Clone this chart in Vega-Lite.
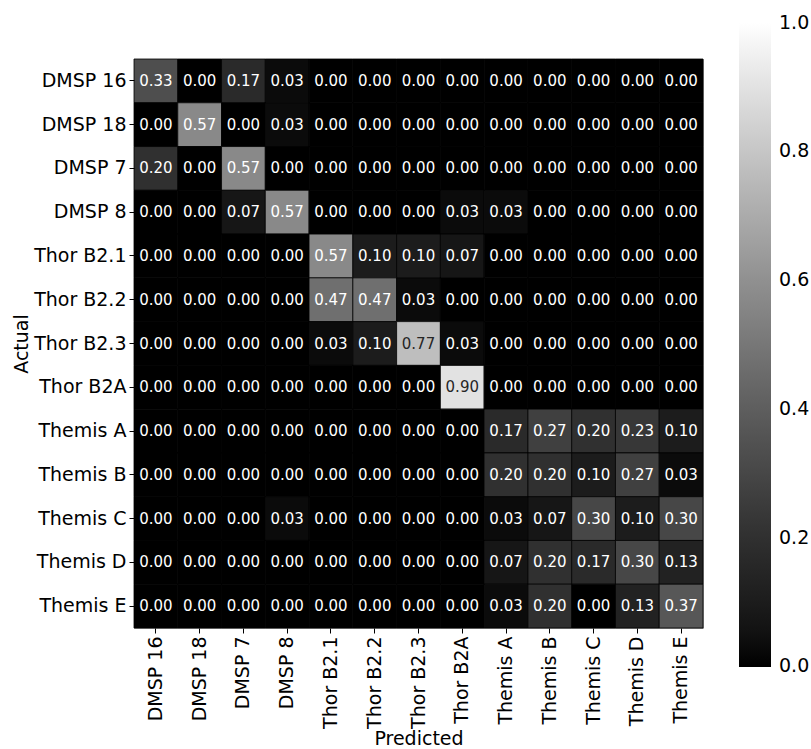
{
 "$schema": "https://vega.github.io/schema/vega-lite/v6.json",
 "width": 569, "height": 569,
 "autosize": {"type": "none"},
 "padding": {"left": 134, "top": 59, "right": 108, "bottom": 121},
 "background": "white",
 "config": {"view": {"stroke": "#999999", "strokeWidth": 1}, "font": "DejaVu Sans"},
 "data": {"values": [
  {"a":"DMSP 16","p":"DMSP 16","v":0.33},{"a":"DMSP 16","p":"DMSP 18","v":0.00},{"a":"DMSP 16","p":"DMSP 7","v":0.17},{"a":"DMSP 16","p":"DMSP 8","v":0.03},{"a":"DMSP 16","p":"Thor B2.1","v":0.00},{"a":"DMSP 16","p":"Thor B2.2","v":0.00},{"a":"DMSP 16","p":"Thor B2.3","v":0.00},{"a":"DMSP 16","p":"Thor B2A","v":0.00},{"a":"DMSP 16","p":"Themis A","v":0.00},{"a":"DMSP 16","p":"Themis B","v":0.00},{"a":"DMSP 16","p":"Themis C","v":0.00},{"a":"DMSP 16","p":"Themis D","v":0.00},{"a":"DMSP 16","p":"Themis E","v":0.00},
  {"a":"DMSP 18","p":"DMSP 16","v":0.00},{"a":"DMSP 18","p":"DMSP 18","v":0.57},{"a":"DMSP 18","p":"DMSP 7","v":0.00},{"a":"DMSP 18","p":"DMSP 8","v":0.03},{"a":"DMSP 18","p":"Thor B2.1","v":0.00},{"a":"DMSP 18","p":"Thor B2.2","v":0.00},{"a":"DMSP 18","p":"Thor B2.3","v":0.00},{"a":"DMSP 18","p":"Thor B2A","v":0.00},{"a":"DMSP 18","p":"Themis A","v":0.00},{"a":"DMSP 18","p":"Themis B","v":0.00},{"a":"DMSP 18","p":"Themis C","v":0.00},{"a":"DMSP 18","p":"Themis D","v":0.00},{"a":"DMSP 18","p":"Themis E","v":0.00},
  {"a":"DMSP 7","p":"DMSP 16","v":0.20},{"a":"DMSP 7","p":"DMSP 18","v":0.00},{"a":"DMSP 7","p":"DMSP 7","v":0.57},{"a":"DMSP 7","p":"DMSP 8","v":0.00},{"a":"DMSP 7","p":"Thor B2.1","v":0.00},{"a":"DMSP 7","p":"Thor B2.2","v":0.00},{"a":"DMSP 7","p":"Thor B2.3","v":0.00},{"a":"DMSP 7","p":"Thor B2A","v":0.00},{"a":"DMSP 7","p":"Themis A","v":0.00},{"a":"DMSP 7","p":"Themis B","v":0.00},{"a":"DMSP 7","p":"Themis C","v":0.00},{"a":"DMSP 7","p":"Themis D","v":0.00},{"a":"DMSP 7","p":"Themis E","v":0.00},
  {"a":"DMSP 8","p":"DMSP 16","v":0.00},{"a":"DMSP 8","p":"DMSP 18","v":0.00},{"a":"DMSP 8","p":"DMSP 7","v":0.07},{"a":"DMSP 8","p":"DMSP 8","v":0.57},{"a":"DMSP 8","p":"Thor B2.1","v":0.00},{"a":"DMSP 8","p":"Thor B2.2","v":0.00},{"a":"DMSP 8","p":"Thor B2.3","v":0.00},{"a":"DMSP 8","p":"Thor B2A","v":0.03},{"a":"DMSP 8","p":"Themis A","v":0.03},{"a":"DMSP 8","p":"Themis B","v":0.00},{"a":"DMSP 8","p":"Themis C","v":0.00},{"a":"DMSP 8","p":"Themis D","v":0.00},{"a":"DMSP 8","p":"Themis E","v":0.00},
  {"a":"Thor B2.1","p":"DMSP 16","v":0.00},{"a":"Thor B2.1","p":"DMSP 18","v":0.00},{"a":"Thor B2.1","p":"DMSP 7","v":0.00},{"a":"Thor B2.1","p":"DMSP 8","v":0.00},{"a":"Thor B2.1","p":"Thor B2.1","v":0.57},{"a":"Thor B2.1","p":"Thor B2.2","v":0.10},{"a":"Thor B2.1","p":"Thor B2.3","v":0.10},{"a":"Thor B2.1","p":"Thor B2A","v":0.07},{"a":"Thor B2.1","p":"Themis A","v":0.00},{"a":"Thor B2.1","p":"Themis B","v":0.00},{"a":"Thor B2.1","p":"Themis C","v":0.00},{"a":"Thor B2.1","p":"Themis D","v":0.00},{"a":"Thor B2.1","p":"Themis E","v":0.00},
  {"a":"Thor B2.2","p":"DMSP 16","v":0.00},{"a":"Thor B2.2","p":"DMSP 18","v":0.00},{"a":"Thor B2.2","p":"DMSP 7","v":0.00},{"a":"Thor B2.2","p":"DMSP 8","v":0.00},{"a":"Thor B2.2","p":"Thor B2.1","v":0.47},{"a":"Thor B2.2","p":"Thor B2.2","v":0.47},{"a":"Thor B2.2","p":"Thor B2.3","v":0.03},{"a":"Thor B2.2","p":"Thor B2A","v":0.00},{"a":"Thor B2.2","p":"Themis A","v":0.00},{"a":"Thor B2.2","p":"Themis B","v":0.00},{"a":"Thor B2.2","p":"Themis C","v":0.00},{"a":"Thor B2.2","p":"Themis D","v":0.00},{"a":"Thor B2.2","p":"Themis E","v":0.00},
  {"a":"Thor B2.3","p":"DMSP 16","v":0.00},{"a":"Thor B2.3","p":"DMSP 18","v":0.00},{"a":"Thor B2.3","p":"DMSP 7","v":0.00},{"a":"Thor B2.3","p":"DMSP 8","v":0.00},{"a":"Thor B2.3","p":"Thor B2.1","v":0.03},{"a":"Thor B2.3","p":"Thor B2.2","v":0.10},{"a":"Thor B2.3","p":"Thor B2.3","v":0.77},{"a":"Thor B2.3","p":"Thor B2A","v":0.03},{"a":"Thor B2.3","p":"Themis A","v":0.00},{"a":"Thor B2.3","p":"Themis B","v":0.00},{"a":"Thor B2.3","p":"Themis C","v":0.00},{"a":"Thor B2.3","p":"Themis D","v":0.00},{"a":"Thor B2.3","p":"Themis E","v":0.00},
  {"a":"Thor B2A","p":"DMSP 16","v":0.00},{"a":"Thor B2A","p":"DMSP 18","v":0.00},{"a":"Thor B2A","p":"DMSP 7","v":0.00},{"a":"Thor B2A","p":"DMSP 8","v":0.00},{"a":"Thor B2A","p":"Thor B2.1","v":0.00},{"a":"Thor B2A","p":"Thor B2.2","v":0.00},{"a":"Thor B2A","p":"Thor B2.3","v":0.00},{"a":"Thor B2A","p":"Thor B2A","v":0.90},{"a":"Thor B2A","p":"Themis A","v":0.00},{"a":"Thor B2A","p":"Themis B","v":0.00},{"a":"Thor B2A","p":"Themis C","v":0.00},{"a":"Thor B2A","p":"Themis D","v":0.00},{"a":"Thor B2A","p":"Themis E","v":0.00},
  {"a":"Themis A","p":"DMSP 16","v":0.00},{"a":"Themis A","p":"DMSP 18","v":0.00},{"a":"Themis A","p":"DMSP 7","v":0.00},{"a":"Themis A","p":"DMSP 8","v":0.00},{"a":"Themis A","p":"Thor B2.1","v":0.00},{"a":"Themis A","p":"Thor B2.2","v":0.00},{"a":"Themis A","p":"Thor B2.3","v":0.00},{"a":"Themis A","p":"Thor B2A","v":0.00},{"a":"Themis A","p":"Themis A","v":0.17},{"a":"Themis A","p":"Themis B","v":0.27},{"a":"Themis A","p":"Themis C","v":0.20},{"a":"Themis A","p":"Themis D","v":0.23},{"a":"Themis A","p":"Themis E","v":0.10},
  {"a":"Themis B","p":"DMSP 16","v":0.00},{"a":"Themis B","p":"DMSP 18","v":0.00},{"a":"Themis B","p":"DMSP 7","v":0.00},{"a":"Themis B","p":"DMSP 8","v":0.00},{"a":"Themis B","p":"Thor B2.1","v":0.00},{"a":"Themis B","p":"Thor B2.2","v":0.00},{"a":"Themis B","p":"Thor B2.3","v":0.00},{"a":"Themis B","p":"Thor B2A","v":0.00},{"a":"Themis B","p":"Themis A","v":0.20},{"a":"Themis B","p":"Themis B","v":0.20},{"a":"Themis B","p":"Themis C","v":0.10},{"a":"Themis B","p":"Themis D","v":0.27},{"a":"Themis B","p":"Themis E","v":0.03},
  {"a":"Themis C","p":"DMSP 16","v":0.00},{"a":"Themis C","p":"DMSP 18","v":0.00},{"a":"Themis C","p":"DMSP 7","v":0.00},{"a":"Themis C","p":"DMSP 8","v":0.03},{"a":"Themis C","p":"Thor B2.1","v":0.00},{"a":"Themis C","p":"Thor B2.2","v":0.00},{"a":"Themis C","p":"Thor B2.3","v":0.00},{"a":"Themis C","p":"Thor B2A","v":0.00},{"a":"Themis C","p":"Themis A","v":0.03},{"a":"Themis C","p":"Themis B","v":0.07},{"a":"Themis C","p":"Themis C","v":0.30},{"a":"Themis C","p":"Themis D","v":0.10},{"a":"Themis C","p":"Themis E","v":0.30},
  {"a":"Themis D","p":"DMSP 16","v":0.00},{"a":"Themis D","p":"DMSP 18","v":0.00},{"a":"Themis D","p":"DMSP 7","v":0.00},{"a":"Themis D","p":"DMSP 8","v":0.00},{"a":"Themis D","p":"Thor B2.1","v":0.00},{"a":"Themis D","p":"Thor B2.2","v":0.00},{"a":"Themis D","p":"Thor B2.3","v":0.00},{"a":"Themis D","p":"Thor B2A","v":0.00},{"a":"Themis D","p":"Themis A","v":0.07},{"a":"Themis D","p":"Themis B","v":0.20},{"a":"Themis D","p":"Themis C","v":0.17},{"a":"Themis D","p":"Themis D","v":0.30},{"a":"Themis D","p":"Themis E","v":0.13},
  {"a":"Themis E","p":"DMSP 16","v":0.00},{"a":"Themis E","p":"DMSP 18","v":0.00},{"a":"Themis E","p":"DMSP 7","v":0.00},{"a":"Themis E","p":"DMSP 8","v":0.00},{"a":"Themis E","p":"Thor B2.1","v":0.00},{"a":"Themis E","p":"Thor B2.2","v":0.00},{"a":"Themis E","p":"Thor B2.3","v":0.00},{"a":"Themis E","p":"Thor B2A","v":0.00},{"a":"Themis E","p":"Themis A","v":0.03},{"a":"Themis E","p":"Themis B","v":0.20},{"a":"Themis E","p":"Themis C","v":0.00},{"a":"Themis E","p":"Themis D","v":0.13},{"a":"Themis E","p":"Themis E","v":0.37}
 ]},
 "encoding": {
  "x": {"field": "p", "type": "nominal",
        "scale": {"domain": ["DMSP 16","DMSP 18","DMSP 7","DMSP 8","Thor B2.1","Thor B2.2","Thor B2.3","Thor B2A","Themis A","Themis B","Themis C","Themis D","Themis E"], "paddingInner": 0, "paddingOuter": 0},
        "axis": {"title": "Predicted", "labelAngle": 270, "labelFontSize": 19, "titleFontSize": 19, "titleFontWeight": "normal", "labelColor": "black", "titleColor": "black", "tickColor": "black", "tickSize": 5, "labelPadding": 3, "domain": false, "titlePadding": 1}},
  "y": {"field": "a", "type": "nominal",
        "scale": {"domain": ["DMSP 16","DMSP 18","DMSP 7","DMSP 8","Thor B2.1","Thor B2.2","Thor B2.3","Thor B2A","Themis A","Themis B","Themis C","Themis D","Themis E"], "paddingInner": 0, "paddingOuter": 0},
        "axis": {"title": "Actual", "labelFontSize": 19, "titleFontSize": 19, "titleFontWeight": "normal", "labelColor": "black", "titleColor": "black", "tickColor": "black", "tickSize": 5, "labelPadding": 3, "domain": false, "titlePadding": 2}}
 },
 "layer": [
  {"mark": {"type": "rect", "stroke": "black", "strokeWidth": 0.8},
   "encoding": {"color": {"field": "v", "type": "quantitative",
     "scale": {"domain": [-0.001, 1.001], "range": ["#000000", "#ffffff"]},
     "legend": {"orient": "none", "legendX": 605, "legendY": -37, "direction": "vertical", "gradientLength": 645, "gradientThickness": 32, "title": null, "values": [0, 0.2, 0.4, 0.6, 0.8, 1], "format": ".1f", "labelFontSize": 19, "labelColor": "black", "labelOffset": 8, "labelBaseline": "middle", "labelOverlap": false, "gradientStrokeWidth": 0}}}},
  {"mark": {"type": "text", "fontSize": 15},
   "encoding": {"text": {"field": "v", "type": "quantitative", "format": ".2f"},
     "color": {"condition": {"test": "datum.v > 0.7", "value": "#262626"}, "value": "#ffffff"}}}
 ]
}
